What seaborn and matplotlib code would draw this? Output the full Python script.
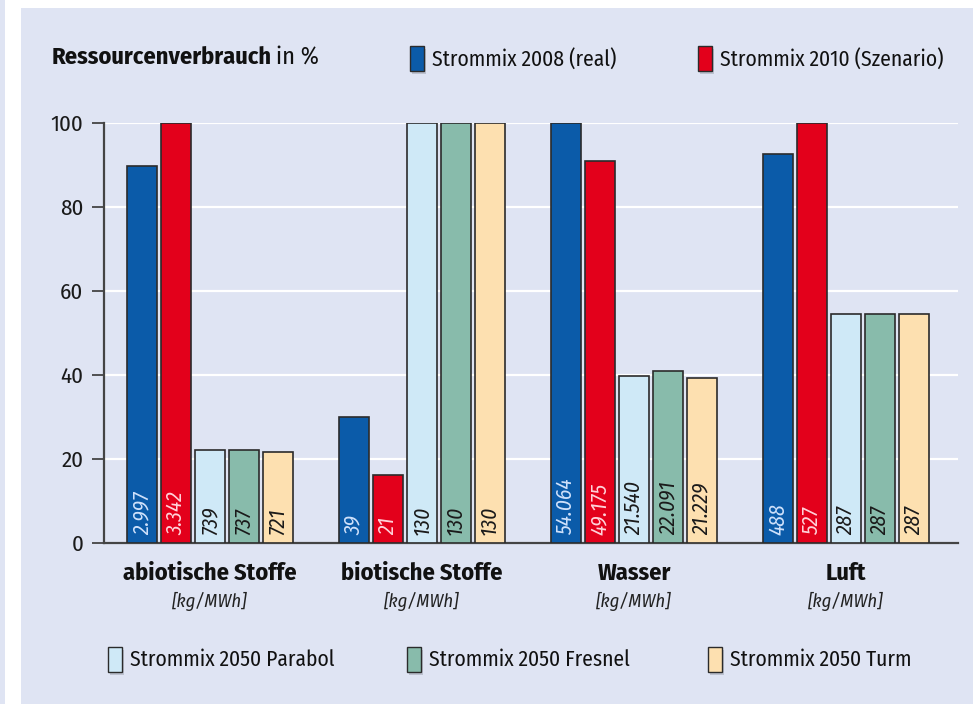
import matplotlib
matplotlib.use("Agg")
import matplotlib.pyplot as plt
from matplotlib import font_manager as fm
from matplotlib.patches import Rectangle
import seaborn as sns
import pandas as pd

categories = ["abiotische Stoffe", "biotische Stoffe", "Wasser", "Luft"]
series = ["Strommix 2008 (real)", "Strommix 2010 (Szenario)",
          "Strommix 2050 Parabol", "Strommix 2050 Fresnel", "Strommix 2050 Turm"]
# percent values (bar heights)
v2008 = [89.7, 30.0, 100.0, 92.6]
v2010 = [100.0, 16.2, 91.0, 100.0]
vparabol = [22.1, 100.0, 39.8, 54.5]
vfresnel = [22.1, 100.0, 40.9, 54.5]
vturm = [21.6, 100.0, 39.3, 54.5]
# absolute labels
l2008 = ["2.997", "39", "54.064", "488"]
l2010 = ["3.342", "21", "49.175", "527"]
lparabol = ["739", "130", "21.540", "287"]
lfresnel = ["737", "130", "22.091", "287"]
lturm = ["721", "130", "21.229", "287"]
unit = "[kg/MWh]"
yticks = [0, 20, 40, 60, 80, 100]

colors = ["#0b5ba9", "#e3001b", "#cfe9f7", "#88bbab", "#fde0b0"]
label_colors = ["#cfe1fb", "#ffd3da", "#1a1a1a", "#1a1a1a", "#1a1a1a"]
bg = "#dfe4f3"

avail = {f.name for f in fm.fontManager.ttflist}
fams = [f for f in ["Fira Sans Condensed", "PT Sans Narrow", "Roboto Condensed"] if f in avail]
fams.append("DejaVu Sans")

sns.set_theme(style="white")
plt.rcParams["font.family"] = fams

vals = [v2008, v2010, vparabol, vfresnel, vturm]
labs = [l2008, l2010, lparabol, lfresnel, lturm]
rows = []
for s, vv in zip(series, vals):
    for c, v in zip(categories, vv):
        rows.append({"cat": c, "series": s, "val": v})
df = pd.DataFrame(rows)

W, H = 976, 704
fig = plt.figure(figsize=(W / 100, H / 100), dpi=100)
fig.patch.set_facecolor("white")
fig.patches.append(Rectangle((21 / W, 0), (973 - 21) / W, (H - 8) / H,
                             transform=fig.transFigure, facecolor=bg, edgecolor="none", zorder=-10))
fig.patches.append(Rectangle((0, 0), 5 / W, 1, transform=fig.transFigure,
                             facecolor=bg, edgecolor="none", zorder=-10))

x0, x1 = 104, 958
y0, y1 = 543, 123
ax = fig.add_axes([x0 / W, 1 - y0 / H, (x1 - x0) / W, (y0 - y1) / H])
ax.set_facecolor("none")

sns.barplot(data=df, x="cat", y="val", hue="series", palette=colors, saturation=1,
            width=0.8, gap=0.12, edgecolor="#2b2b2b", linewidth=1.2,
            legend=False, ax=ax, zorder=3)

ax.set_xlim(-0.5, 3.5 + 6 / 212)
ax.set_ylim(0, 100)
ax.set_yticks(yticks)
ax.set_yticklabels([str(t) for t in yticks], fontsize=16.5, color="#1a1a1a")
ax.yaxis.grid(True, color="white", linewidth=1.6, zorder=0)
ax.set_axisbelow(True)
ax.set_xlabel("")
ax.set_ylabel("")
ax.set_xticks([0.5, 1.5, 2.5])
ax.set_xticklabels([])
ax.tick_params(axis="x", direction="in", length=9, width=1.3, color="#444")
ax.tick_params(axis="y", direction="out", length=9, width=1.3, color="#444", pad=6, left=True)
for s in ["top", "right"]:
    ax.spines[s].set_visible(False)
for s in ["left", "bottom"]:
    ax.spines[s].set_color("#444")
    ax.spines[s].set_linewidth(1.6)

bars = [p for p in ax.patches if isinstance(p, Rectangle)]
for i in range(5):
    for j in range(4):
        p = bars[i * 4 + j]
        cx = p.get_x() + p.get_width() / 2
        ax.text(cx, 1.8, labs[i][j], rotation=90, ha="center", va="bottom",
                fontsize=15.5, style="italic", color=label_colors[i], zorder=5)

for j, c in enumerate(categories):
    ax.text(j, -0.073, c, transform=ax.get_xaxis_transform(), ha="center", va="center",
            fontsize=17.5, fontweight="bold", color="#111")
    ax.text(j, -0.139, unit, transform=ax.get_xaxis_transform(), ha="center", va="center",
            fontsize=13.5, style="italic", color="#222")

t = fig.text(52 / W, 1 - 57 / H, "Ressourcenverbrauch", fontsize=17.5, fontweight="bold",
             color="#111", va="center", ha="left")
fig.canvas.draw()
bb = t.get_window_extent()
fig.text((bb.x1 + 4) / W, 1 - 57 / H, "in %", fontsize=17.5, color="#111", va="center", ha="left")

def legend_item(xsq, ycen, color, text):
    fig.patches.append(Rectangle(((xsq + 2) / W, 1 - (ycen + 15) / H), 14 / W, 25 / H,
                                 transform=fig.transFigure, facecolor="#9aa0ad",
                                 edgecolor="none", alpha=0.5, zorder=1))
    fig.patches.append(Rectangle((xsq / W, 1 - (ycen + 12) / H), 14 / W, 25 / H,
                                 transform=fig.transFigure, facecolor=color,
                                 edgecolor="#2b2b2b", linewidth=1.0, zorder=2))
    fig.text((xsq + 22) / W, 1 - ycen / H, text, fontsize=15.5, color="#111",
             va="center", ha="left")

legend_item(410, 59, colors[0], series[0])
legend_item(698, 59, colors[1], series[1])
legend_item(108, 660, colors[2], series[2])
legend_item(407, 660, colors[3], series[3])
legend_item(708, 660, colors[4], series[4])

fig.savefig("out.png", dpi=100, facecolor=fig.get_facecolor())
